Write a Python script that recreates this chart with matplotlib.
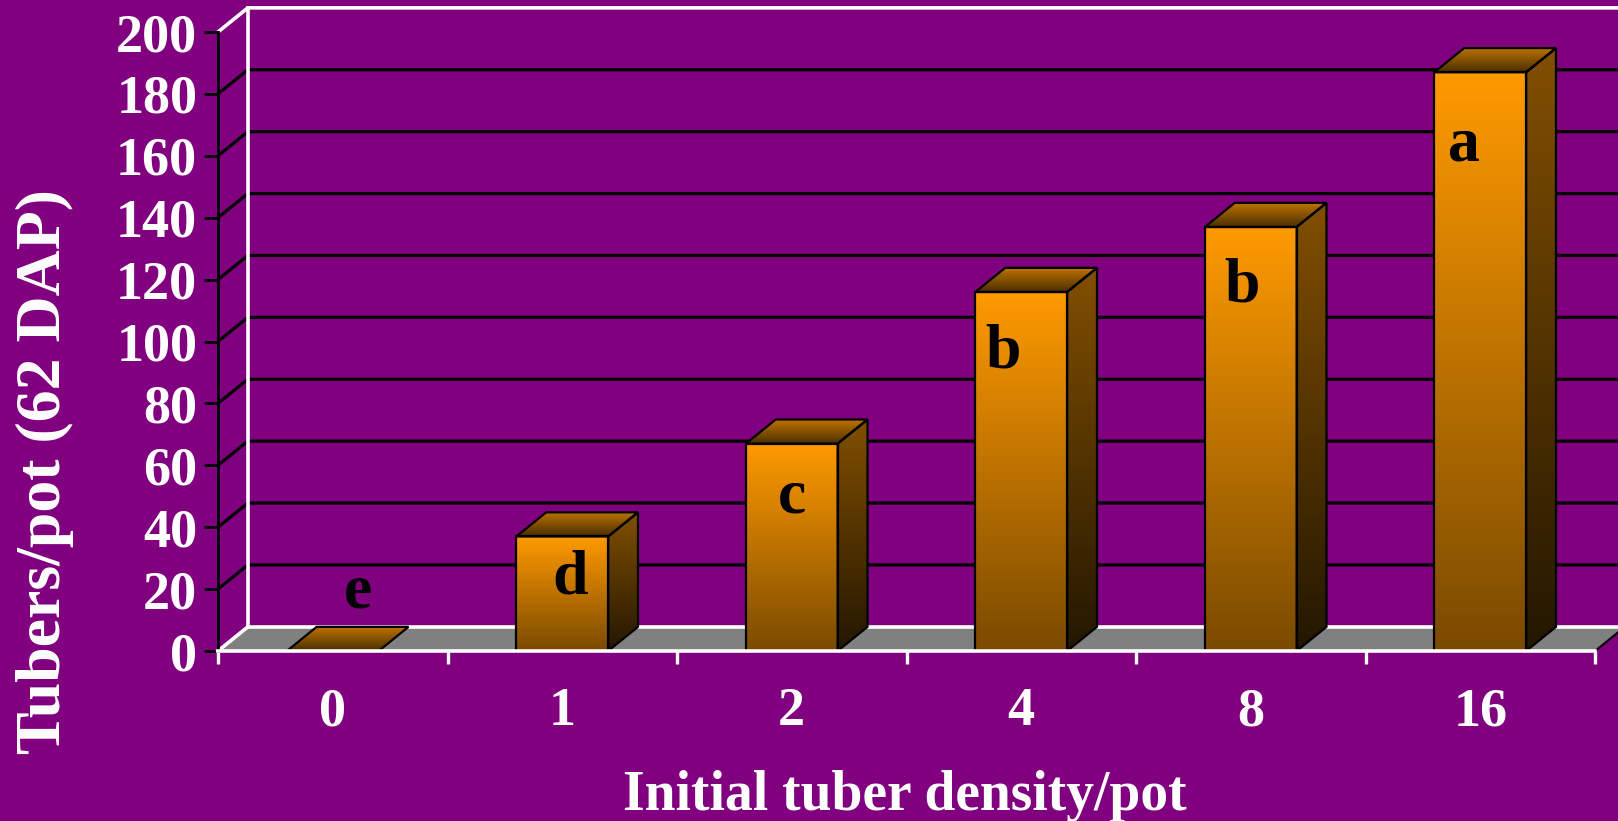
import matplotlib
matplotlib.use('Agg')
import matplotlib.pyplot as plt
import numpy as np
from matplotlib.patches import Polygon
from matplotlib.colors import to_rgb

density = ['0', '1', '2', '4', '8', '16']
tubers = [0, 37, 67, 116, 137, 187]
letters = ['e', 'd', 'c', 'b', 'b', 'a']
yticks = list(range(0, 201, 20))

# where the significance letters sit (x shift from bar centre, baseline value)
letter_dx = [0.11, 0.035, 0.0, -0.08, -0.04, -0.07]
letter_y = [14, 18.7, 44.6, 91.5, 112.8, 158.6]

purple = '#800080'
plt.rcParams['font.family'] = ['Liberation Serif', 'DejaVu Serif']
plt.rcParams['font.weight'] = 'bold'

DX, DY = 0.13, 7.8   # depth of the 3d look, data units
W = 0.4

fig = plt.figure(figsize=(16.18, 8.21), dpi=100, facecolor=purple)
ax = fig.add_axes([218/1618, 170/821, 1377/1618, 619/821])
ax.set_facecolor('none')
n = len(density)
x0, x1 = -0.5, n - 0.5
ymax = yticks[-1]


def shade(verts, c_top, c_bot, z):
    poly = Polygon(verts, closed=True, fc='none', ec='k', lw=1.6, zorder=z + 0.5)
    ax.add_patch(poly)
    xs = [v[0] for v in verts]
    ys = [v[1] for v in verts]
    t = np.linspace(0, 1, 256)[:, None, None]
    img = np.array(to_rgb(c_top))[None, None, :] * (1 - t) + np.array(to_rgb(c_bot))[None, None, :] * t
    im = ax.imshow(img, extent=(min(xs), max(xs), min(ys), max(ys)), origin='upper',
                   aspect='auto', zorder=z, interpolation='bilinear')
    im.set_clip_path(poly)


# walls and grid
for g in yticks[1:-1]:
    ax.plot([x0, x0 + DX, x1 + DX + 0.5], [g, g + DY, g + DY], color='k', lw=2.3,
            clip_on=False, zorder=1, solid_capstyle='butt')
ax.plot([x0, x0 + DX, x1 + DX + 0.5], [ymax, ymax + DY, ymax + DY], color='w', lw=2.6,
        clip_on=False, zorder=1)
ax.plot([x0 + DX, x0 + DX], [DY, ymax + DY], color='w', lw=2.6, clip_on=False, zorder=1)

# floor
ax.add_patch(Polygon([[x0, 0], [x1, 0], [x1 + DX, DY], [x0 + DX, DY]], closed=True,
                     fc='#808080', ec='none', clip_on=False, zorder=2))
ax.plot([x0 + DX, x1 + DX + 0.5], [DY, DY], color='w', lw=2.6, clip_on=False, zorder=2)
ax.plot([x0, x0 + DX], [0, DY], color='w', lw=2.6, clip_on=False, zorder=2)
ax.plot([x1, x1 + DX], [0, DY], color='k', lw=1.5, clip_on=False, zorder=2)

# bars
for i, v in enumerate(tubers):
    xl, xr = i - W / 2, i + W / 2
    if v > 0:
        shade([[xl, 0], [xr, 0], [xr, v], [xl, v]], '#ff9a00', '#7a4a00', 5)
        shade([[xr, 0], [xr + DX, DY], [xr + DX, v + DY], [xr, v]], '#824f00', '#231700', 5)
    shade([[xl, v], [xr, v], [xr + DX, v + DY], [xl + DX, v + DY]], '#c27500', '#4a2e00', 5)
    ax.text(i + letter_dx[i], letter_y[i], letters[i], ha='center', va='baseline',
            fontsize=46, fontweight='bold', color='k', zorder=10)

ax.set_xlim(x0, x1)
ax.set_ylim(0, ymax)

for s in ['top', 'right']:
    ax.spines[s].set_visible(False)
ax.spines['left'].set_color('k')
ax.spines['left'].set_linewidth(2)
ax.spines['bottom'].set_color('w')
ax.spines['bottom'].set_linewidth(2.6)
ax.spines['bottom'].set_zorder(6)

ax.set_yticks(yticks)
ax.set_yticklabels([str(t) for t in yticks])
ax.tick_params(axis='y', length=10, width=2, color='k', pad=5, labelcolor='w', labelsize=39)

ax.set_xticks(np.arange(n + 1) - 0.5)
ax.set_xticklabels([])
ax.set_xticks(np.arange(n), minor=True)
ax.set_xticklabels(density, minor=True)
ax.tick_params(axis='x', which='major', length=9.5, width=2.4, color='w')
ax.tick_params(axis='x', which='minor', length=0, pad=26, labelcolor='w', labelsize=39)

fig.text(905/1618, 11/821, 'Initial tuber density/pot', ha='center', va='baseline',
         fontsize=40, fontweight='bold', color='w')
fig.text(60/1618, 1 - 472/821, 'Tubers/pot (62 DAP)', ha='center', va='baseline',
         rotation=90, rotation_mode='anchor', fontsize=46, fontweight='bold', color='w')

fig.savefig('out.png', dpi=100, facecolor=purple)
